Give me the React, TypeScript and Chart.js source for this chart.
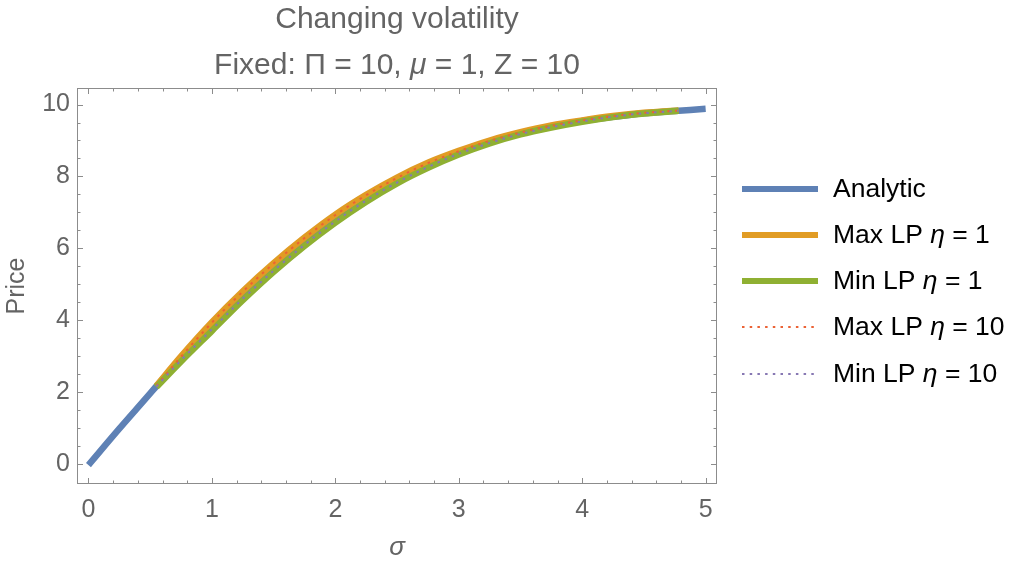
import { useEffect, useRef } from "react";
import { Chart, registerables } from "chart.js";
Chart.register(...registerables);

// analytic price
const sigmaAnalytic = [0, 0.25, 0.5, 0.55, 0.75, 1, 1.25, 1.5, 1.75, 2, 2.25, 2.5, 2.75, 3, 3.25, 3.5, 3.75, 4, 4.25, 4.5, 4.75, 5];
const priceAnalytic = [-0.02, 0.99, 1.97, 2.17, 2.92, 3.83, 4.68, 5.47, 6.18, 6.83, 7.39, 7.89, 8.31, 8.66, 8.96, 9.2, 9.39, 9.54, 9.66, 9.76, 9.82, 9.88];

// LP bounds only run from about 0.55 to 4.78
const sigmaLP = [0.55, 0.75, 1, 1.25, 1.5, 1.75, 2, 2.25, 2.5, 2.75, 3, 3.25, 3.5, 3.75, 4, 4.25, 4.5, 4.78];
const maxLP1 = [2.18, 3.0, 3.95, 4.81, 5.59, 6.3, 6.94, 7.49, 7.97, 8.38, 8.71, 9.0, 9.23, 9.42, 9.56, 9.68, 9.77, 9.835];
const minLP1 = [2.15, 2.86, 3.71, 4.56, 5.35, 6.07, 6.72, 7.3, 7.81, 8.24, 8.61, 8.92, 9.17, 9.36, 9.52, 9.65, 9.75, 9.825];
const maxLP10 = [2.18, 2.99, 3.94, 4.8, 5.58, 6.29, 6.93, 7.48, 7.96, 8.37, 8.7, 8.99, 9.22, 9.41, 9.56, 9.68, 9.77, 9.833];
const minLP10 = [2.16, 2.89, 3.75, 4.6, 5.38, 6.1, 6.75, 7.33, 7.83, 8.26, 8.63, 8.93, 9.18, 9.37, 9.53, 9.66, 9.755, 9.827];

const xTicks = [0, 1, 2, 3, 4, 5];
const yTicks = [0, 2, 4, 6, 8, 10];

const FONT = '"Liberation Sans", Arial, Helvetica, sans-serif';
const GRAY = "#646464";
const FRAME = "#8c8c8c";

type Part = [string, boolean];
const titleLines: Part[][] = [
  [["Changing volatility", false]],
  [["Fixed: Π = 10, ", false], ["μ", true], [" = 1, Z = 10", false]],
];
const legendLabels: Part[][] = [
  [["Analytic", false]],
  [["Max LP ", false], ["η", true], [" = 1", false]],
  [["Min LP ", false], ["η", true], [" = 1", false]],
  [["Max LP ", false], ["η", true], [" = 10", false]],
  [["Min LP ", false], ["η", true], [" = 10", false]],
];

const pts = (xs: number[], ys: number[]) => xs.map((x, i) => ({ x, y: ys[i] }));

function drawRich(ctx: CanvasRenderingContext2D, parts: Part[], x: number, y: number, size: number, color: string, center: boolean) {
  const fontOf = (it: boolean) => `${it ? "italic " : ""}${size}px ${FONT}`;
  let total = 0;
  parts.forEach(([t, it]) => {
    ctx.font = fontOf(it);
    total += ctx.measureText(t).width;
  });
  let cx = center ? x - total / 2 : x;
  ctx.fillStyle = color;
  ctx.textAlign = "left";
  parts.forEach(([t, it]) => {
    ctx.font = fontOf(it);
    ctx.fillText(t, cx, y);
    cx += ctx.measureText(t).width;
  });
}

const framePlugin = {
  id: "frameTicks",
  afterDraw(chart: any) {
    const { ctx, chartArea: a, scales } = chart;
    const xs = scales.x;
    const ys = scales.y;
    ctx.save();
    ctx.strokeStyle = FRAME;
    ctx.lineWidth = 1;
    ctx.strokeRect(a.left + 0.5, a.top + 0.5, a.right - a.left - 1, a.bottom - a.top - 1);
    ctx.beginPath();
    for (let i = 0; i <= 25; i++) {
      const v = i * 0.2;
      const len = i % 5 === 0 ? 6 : 3.5;
      const px = Math.round(xs.getPixelForValue(v)) + 0.5;
      ctx.moveTo(px, a.bottom);
      ctx.lineTo(px, a.bottom - len);
      ctx.moveTo(px, a.top);
      ctx.lineTo(px, a.top + len);
    }
    for (let i = 0; i <= 20; i++) {
      const v = i * 0.5;
      const len = i % 4 === 0 ? 6 : 3.5;
      const py = Math.round(ys.getPixelForValue(v)) + 0.5;
      ctx.moveTo(a.left, py);
      ctx.lineTo(a.left + len, py);
      ctx.moveTo(a.right, py);
      ctx.lineTo(a.right - len, py);
    }
    ctx.stroke();

    // title
    ctx.textBaseline = "alphabetic";
    const mid = (a.left + a.right) / 2;
    drawRich(ctx, titleLines[0], mid, 28, 30, GRAY, true);
    drawRich(ctx, titleLines[1], mid, 74, 30, GRAY, true);

    // legend
    const rows = [189, 235, 281, 327, 374];
    chart.data.datasets.forEach((ds: any, i: number) => {
      const y = rows[i];
      ctx.beginPath();
      ctx.strokeStyle = ds.borderColor;
      ctx.lineWidth = ds.borderDash ? 2 : 6;
      ctx.setLineDash(ds.borderDash ? ds.borderDash : []);
      ctx.lineCap = "butt";
      ctx.moveTo(742, y);
      ctx.lineTo(818, y);
      ctx.stroke();
      ctx.setLineDash([]);
      ctx.textBaseline = "middle";
      drawRich(ctx, legendLabels[i], 833, y + 1, 26.5, "#000", false);
    });
    ctx.restore();
  },
};

export default function App() {
  const ref = useRef<HTMLCanvasElement>(null);

  useEffect(() => {
    document.body.style.margin = "0";
    const line = (data: any, color: string, width: number, order: number, dash?: number[]) => ({
      data,
      borderColor: color,
      borderWidth: width,
      borderDash: dash,
      borderCapStyle: "butt",
      pointRadius: 0,
      cubicInterpolationMode: "monotone",
      order,
    });
    const chart = new Chart(ref.current!, {
      type: "line",
      data: {
        datasets: [
          line(pts(sigmaAnalytic, priceAnalytic), "#5E81B5", 6.5, 5),
          line(pts(sigmaLP, maxLP1), "#E19C24", 6.5, 4),
          line(pts(sigmaLP, minLP1), "#8FB032", 6.5, 3),
          line(pts(sigmaLP, maxLP10), "#EB6235", 2, 2, [2.5, 5.2]),
          line(pts(sigmaLP, minLP10), "#8778B3", 2, 1, [2.5, 5.2]),
        ] as any,
      },
      options: {
        responsive: false,
        animation: false,
        layout: { padding: { top: 88, right: 299, left: 0, bottom: 0 } },
        plugins: {
          legend: { display: false },
          title: { display: false },
          tooltip: { enabled: false },
        },
        scales: {
          x: {
            type: "linear",
            min: -0.093,
            max: 5.092,
            afterBuildTicks: (s: any) => {
              s.ticks = xTicks.map((v) => ({ value: v }));
            },
            afterFit: (s: any) => {
              s.height = 84;
            },
            grid: { display: false, drawTicks: false },
            border: { display: false },
            ticks: {
              color: GRAY,
              font: { family: FONT, size: 25 },
              padding: 11,
              maxRotation: 0,
              autoSkip: false,
              callback: (v: any) => String(v),
            },
            title: {
              display: true,
              text: "σ",
              color: GRAY,
              font: { family: FONT, size: 26, style: "italic" },
              padding: { top: 0, bottom: 5 },
            },
          },
          y: {
            type: "linear",
            min: -0.547,
            max: 10.459,
            afterBuildTicks: (s: any) => {
              s.ticks = yTicks.map((v) => ({ value: v }));
            },
            afterFit: (s: any) => {
              s.width = 77;
            },
            grid: { display: false, drawTicks: false },
            border: { display: false },
            ticks: {
              color: GRAY,
              font: { family: FONT, size: 25 },
              padding: 7,
              autoSkip: false,
              callback: (v: any) => String(v),
            },
            title: {
              display: true,
              text: "Price",
              color: GRAY,
              font: { family: FONT, size: 25 },
              padding: { top: 2, bottom: 0 },
            },
          },
        },
      },
      plugins: [framePlugin],
    });
    return () => {
      chart.destroy();
    };
  }, []);

  return (
    <div style={{ width: 1016, height: 568, overflow: "hidden", background: "#fff" }}>
      <canvas ref={ref} width={1016} height={568} style={{ display: "block" }}></canvas>
    </div>
  );
}
